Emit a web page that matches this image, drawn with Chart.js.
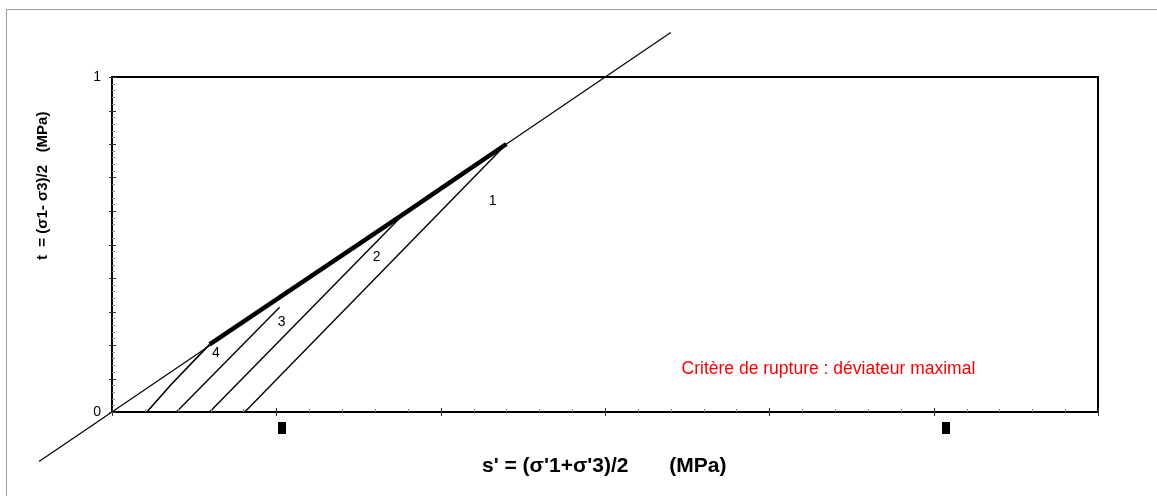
<!DOCTYPE html>
<html lang="fr">
<head>
<meta charset="UTF-8">
<title>Chemins de contraintes</title>
<script src="https://cdn.jsdelivr.net/npm/chart.js"></script>
<style>
    body { margin: 0; background: #fff; }
    .wrap { position: relative; width: 1157px; height: 498px; overflow: hidden; }
    .cadre {
        position: absolute; left: 6px; top: 9px; width: 1200px; height: 486px;
        border-top: 1px solid #a0a0a0; border-left: 1px solid #a0a0a0;
    }
    canvas { position: absolute; left: 0; top: 0; }
</style>
</head>
<body>
<div class="wrap">
    <div class="cadre"></div>
    <canvas id="chemins" width="1157" height="498"></canvas>
</div>
<script>
    // droite de rupture t = s' tan(alpha)
    const droiteS = [-0.222, 1.70];
    const droiteT = [-0.148, 1.133];
    // enveloppe des pics (trait epais)
    const picsS = [0.297, 0.89, 1.20];
    const picsT = [0.202, 0.593, 0.80];
    // chemins de contraintes 1 a 4
    const chemin1S = [0.404, 1.20];
    const chemin1T = [0, 0.80];
    const chemin2S = [0.297, 0.89];
    const chemin2T = [0, 0.593];
    const chemin3S = [0.196, 0.51];
    const chemin3T = [0, 0.313];
    const chemin4S = [0.106, 0.18, 0.297];
    const chemin4T = [0, 0.082, 0.202];
    // numeros des essais
    const numeros = ['1', '2', '3', '4'];
    const numS = [1.158, 0.805, 0.516, 0.316];
    const numT = [0.628, 0.463, 0.269, 0.176];
    // petits carres sous l'axe des abscisses
    const carresS = [0.516, 2.537];
    const carresT = [-0.049, -0.049];
    // graduations
    const yEtiquettes = [0, 1];
    const xMin = 0, xMax = 3, xPas = 0.1, xPasMajeur = 0.5;
    const yMin = 0, yMax = 1, yPas = 0.02, yPasMajeur = 0.1;
    const note = 'Critère de rupture : déviateur maximal';
    const noteS = 1.733, noteT = 0.1286;
    const titreX = "s' = (σ'1+σ'3)/2       (MPa)";
    const titreY = 't  = (σ1- σ3)/2   (MPa)';

    const pts = (xs, ys) => xs.map((x, i) => ({ x: x, y: ys[i] }));

    const police = '"Liberation Sans", Arial, sans-serif';

    const decor = {
        id: 'decor',
        afterDatasetsDraw(chart) {
            const { ctx, chartArea: a, scales: { x, y } } = chart;
            ctx.save();

            // cadre de la zone de trace
            ctx.strokeStyle = '#000';
            ctx.lineWidth = 2;
            ctx.strokeRect(a.left, a.top, a.right - a.left, a.bottom - a.top);

            // graduations de l'axe x
            ctx.lineWidth = 1;
            const nx = Math.round((xMax - xMin) / xPas);
            for (let i = 0; i <= nx; i++) {
                const px = Math.round(x.getPixelForValue(xMin + i * xPas)) + 0.5;
                const majeur = i % Math.round(xPasMajeur / xPas) === 0;
                ctx.strokeStyle = majeur ? '#333' : '#888';
                ctx.beginPath();
                ctx.moveTo(px, a.bottom - (majeur ? 4 : 3));
                ctx.lineTo(px, a.bottom + (majeur ? 4 : 0));
                ctx.stroke();
            }
            // graduations de l'axe y
            const ny = Math.round((yMax - yMin) / yPas);
            for (let i = 0; i <= ny; i++) {
                const py = Math.round(y.getPixelForValue(yMin + i * yPas)) + 0.5;
                const majeur = i % Math.round(yPasMajeur / yPas) === 0;
                ctx.strokeStyle = majeur ? '#333' : '#888';
                ctx.beginPath();
                ctx.moveTo(a.left - (majeur ? 3 : 0), py);
                ctx.lineTo(a.left + (majeur ? 4 : 3), py);
                ctx.stroke();
            }

            // carres noirs sous l'axe (hors zone de trace)
            ctx.fillStyle = '#000';
            carresS.forEach((s, i) => {
                const cx = Math.round(x.getPixelForValue(s));
                const cy = Math.round(y.getPixelForValue(carresT[i]));
                ctx.fillRect(cx - 4, cy - 6, 8, 12);
            });

            // numeros des chemins
            ctx.font = '14px ' + police;
            ctx.textAlign = 'center';
            ctx.textBaseline = 'middle';
            numeros.forEach((n, i) => {
                ctx.fillText(n, x.getPixelForValue(numS[i]), y.getPixelForValue(numT[i]));
            });

            // critere en rouge
            ctx.fillStyle = '#ff0000';
            ctx.font = '17.5px ' + police;
            ctx.textAlign = 'left';
            ctx.fillText(note, x.getPixelForValue(noteS), y.getPixelForValue(noteT));

            // titres des axes
            ctx.fillStyle = '#000';
            ctx.font = 'bold 21px ' + police;
            ctx.textAlign = 'left';
            ctx.fillText(titreX, 482, 466);

            ctx.translate(43, 260);
            ctx.rotate(-Math.PI / 2);
            ctx.font = 'bold 15px ' + police;
            ctx.fillText(titreY, 0, 0);
            ctx.restore();
        }
    };

    const trait = (data, largeur, extra) => Object.assign({
        data: data,
        showLine: true,
        borderColor: '#000',
        backgroundColor: '#000',
        borderWidth: largeur,
        pointRadius: 0,
        tension: 0
    }, extra || {});

    new Chart(document.getElementById('chemins'), {
        type: 'scatter',
        data: {
            datasets: [
                trait(pts(picsS, picsT), 4.5, { tension: 0.2 }),
                trait(pts(chemin1S, chemin1T), 1.4),
                trait(pts(chemin2S, chemin2T), 1.4),
                trait(pts(chemin3S, chemin3T), 1.4),
                trait(pts(chemin4S, chemin4T), 1.6),
                trait(pts(droiteS, droiteT), 1.2, { clip: false })
            ]
        },
        options: {
            responsive: false,
            animation: false,
            events: [],
            layout: { padding: { top: 77, right: 59, left: 0, bottom: 0 } },
            plugins: {
                legend: { display: false },
                tooltip: { enabled: false }
            },
            scales: {
                x: {
                    type: 'linear',
                    min: xMin,
                    max: xMax,
                    grid: { display: false, drawTicks: false },
                    border: { display: false },
                    ticks: { display: false },
                    afterFit: s => { s.height = 86; }
                },
                y: {
                    type: 'linear',
                    min: yMin,
                    max: yMax,
                    grid: { display: false, drawTicks: false },
                    border: { display: false },
                    ticks: {
                        stepSize: yPasMajeur,
                        autoSkip: false,
                        padding: 11,
                        color: '#000',
                        font: { family: police, size: 14 },
                        callback: v => {
                            const e = yEtiquettes.find(t => Math.abs(t - v) < 1e-9);
                            return e === undefined ? '' : String(e);
                        }
                    },
                    afterFit: s => { s.width = 112; }
                }
            }
        },
        plugins: [decor]
    });
</script>
</body>
</html>
